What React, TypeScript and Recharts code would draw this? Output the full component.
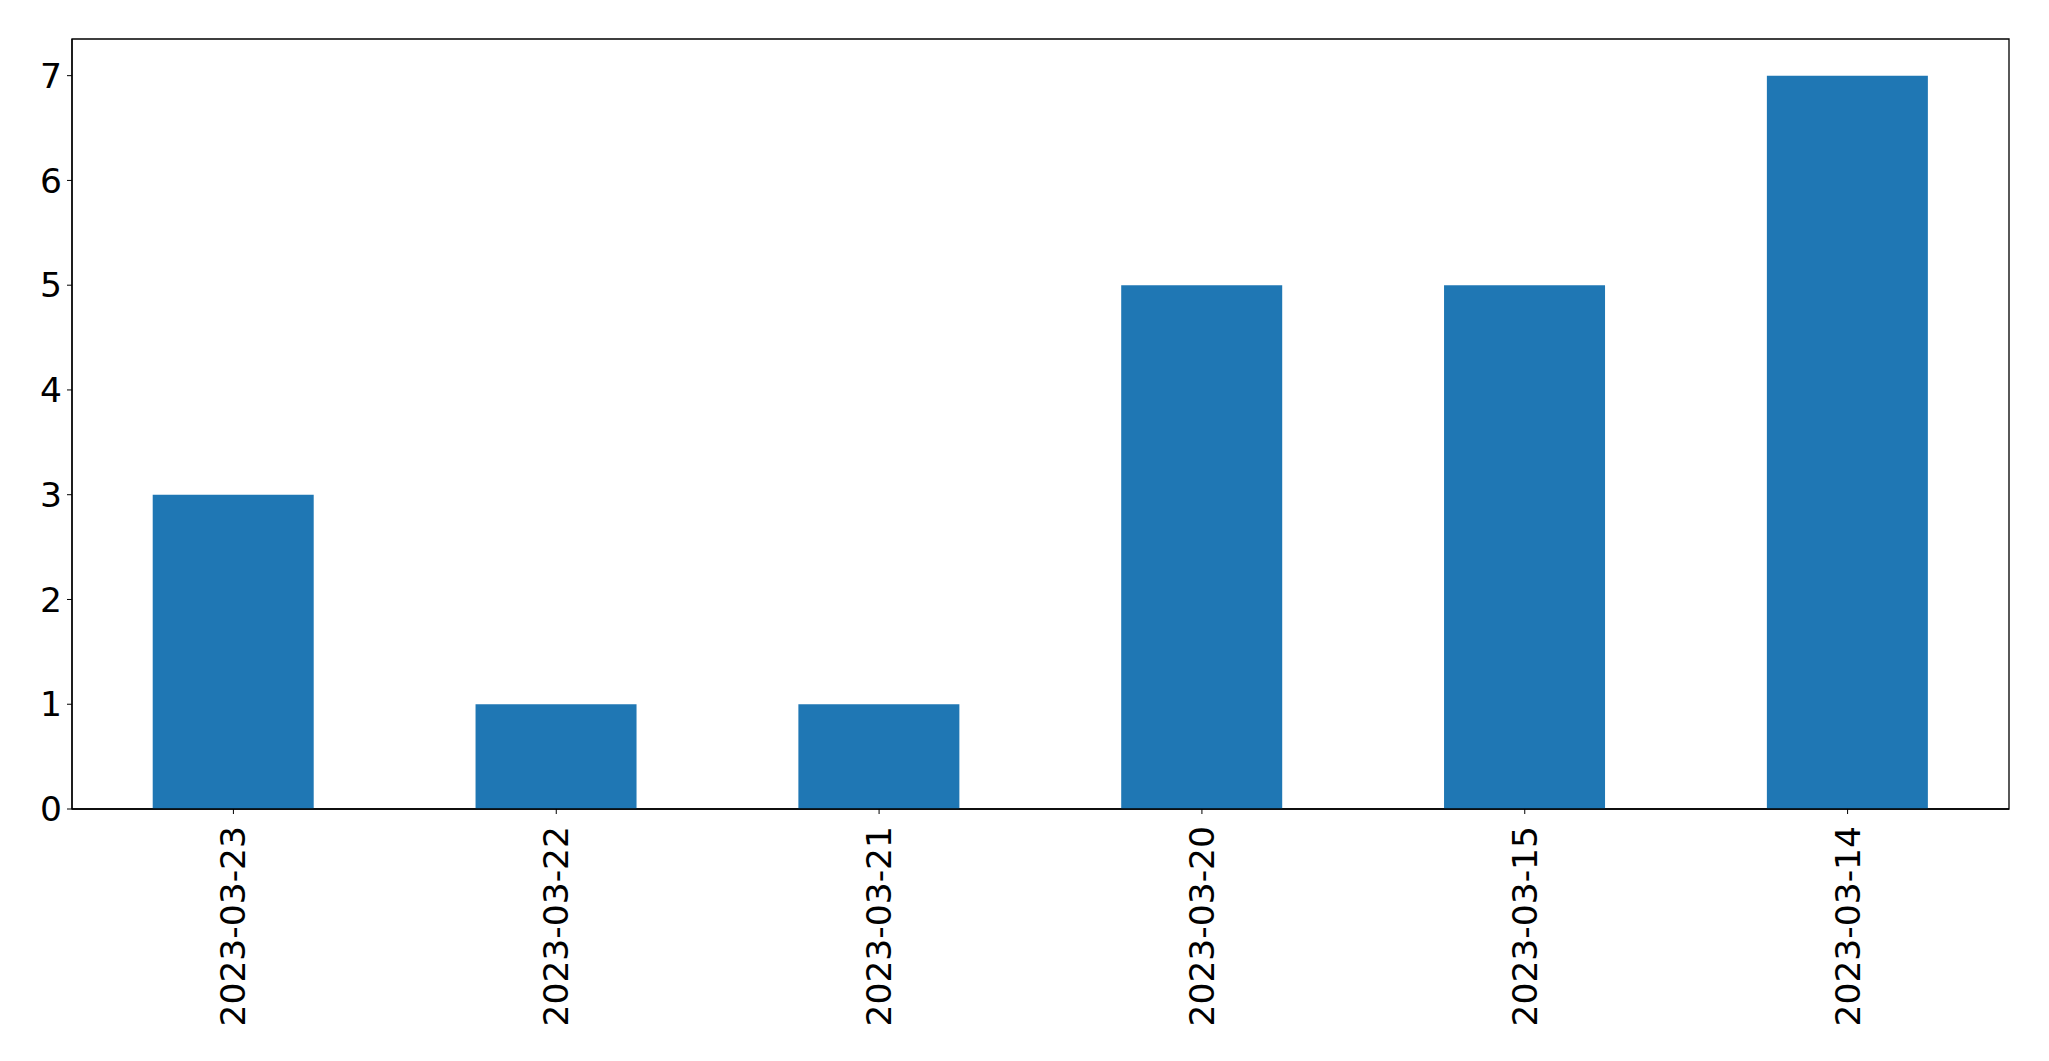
import React from 'react';
import { Bar, BarChart, ReferenceArea, XAxis, YAxis } from 'recharts';

const dates = ['2023-03-23', '2023-03-22', '2023-03-21', '2023-03-20', '2023-03-15', '2023-03-14'];
const counts = [3, 1, 1, 5, 5, 7];
const yTicks = [0, 1, 2, 3, 4, 5, 6, 7];
const Y_MAX = 7.35;

const FONT = '"DejaVu Sans", sans-serif';
const FONT_SIZE = 34.5;

const chartData = dates.map((date, i) => ({ date, count: counts[i] }));

function DateTick(props: any) {
  const { x, y, payload } = props;
  return (
    <text
      x={x}
      y={y}
      transform={`rotate(-90, ${x}, ${y})`}
      textAnchor="end"
      dominantBaseline="central"
      fontSize={FONT_SIZE}
      fontFamily={FONT}
      fill="#000"
    >
      {payload.value}
    </text>
  );
}

export default function App() {
  return (
    <div style={{ position: 'absolute', left: 0, top: 0, background: '#fff' }}>
      <BarChart
        width={2049}
        height={1061}
        data={chartData}
        margin={{ top: 39, right: 40, bottom: 0, left: 0 }}
        barCategoryGap="25%"
      >
        <XAxis
          dataKey="date"
          interval={0}
          height={252}
          tickSize={5}
          tickMargin={12}
          tick={<DateTick />}
          axisLine={{ stroke: '#000', strokeWidth: 1.3 }}
          tickLine={{ stroke: '#000' }}
        />
        <YAxis
          domain={[0, Y_MAX]}
          ticks={yTicks}
          width={72}
          tickSize={5}
          tickMargin={5}
          interval={0}
          tick={{ fontSize: FONT_SIZE, fontFamily: FONT, fill: '#000' }}
          axisLine={{ stroke: '#000', strokeWidth: 1.3 }}
          tickLine={{ stroke: '#000' }}
        />
        <Bar dataKey="count" fill="#1f77b4" isAnimationActive={false} />
        {/* frame around the plot area */}
        <ReferenceArea
          y1={0}
          y2={Y_MAX}
          fill="none"
          fillOpacity={0}
          stroke="#000"
          strokeWidth={1.3}
          ifOverflow="visible"
        />
      </BarChart>
    </div>
  );
}
